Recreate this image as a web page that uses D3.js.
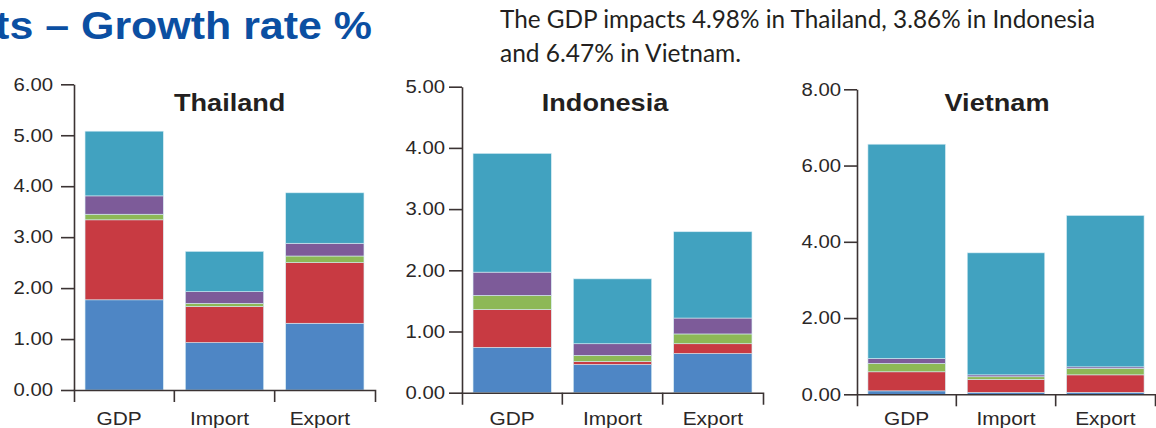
<!doctype html>
<html lang="en">
<head>
    <meta charset="UTF-8">
    <title>Growth rate %</title>
    <script src="https://d3js.org/d3.v7.min.js"></script>
    <style>
        body { margin: 0; background: #fff; }
        svg { display: block; }
    </style>
</head>
<body>
<div id="chart"></div>
<script>
    // data (bottom to top: blue, red, green, purple, teal)
    var categories = ["GDP", "Import", "Export"];
    var countries = ["Thailand", "Indonesia", "Vietnam"];
    var componentColors = ["#4e86c5", "#c83a42", "#8db856", "#7d5b99", "#41a2c0"];

    var thailandValues = [
        [1.77, 1.57, 0.11, 0.36, 1.27],
        [0.93, 0.71, 0.06, 0.23, 0.79],
        [1.31, 1.19, 0.13, 0.25, 0.99]
    ];
    var indonesiaValues = [
        [0.74, 0.62, 0.23, 0.38, 1.94],
        [0.46, 0.05, 0.10, 0.19, 1.06],
        [0.64, 0.16, 0.16, 0.26, 1.41]
    ];
    var vietnamValues = [
        [0.09, 0.50, 0.22, 0.13, 5.62],
        [0.05, 0.34, 0.07, 0.05, 3.20],
        [0.05, 0.46, 0.17, 0.04, 3.97]
    ];

    var thailandTicks = [0, 1, 2, 3, 4, 5, 6];
    var indonesiaTicks = [0, 1, 2, 3, 4, 5];
    var vietnamTicks = [0, 2, 4, 6, 8];

    var titleText = "Economic Impacts \u2013 Growth rate %";
    var noteLines = ["The GDP impacts 4.98% in Thailand, 3.86% in Indonesia",
        "and 6.47% in Vietnam."];

    // layout
    var W = 1156, H = 428;
    var stretch = 1.13;   // the reference text is a bit wide
    var axisColor = "#3b3333";
    var textColor = "#2b2727";

    var panels = [
        {values: thailandValues, ticks: thailandTicks, x0: 74, x1: 375, y0: 390, y1: 84.3, gap: 8, dx: -5, titleX: 229.7},
        {values: indonesiaValues, ticks: indonesiaTicks, x0: 462, x1: 763, y0: 392.7, y1: 86.7, gap: 4, dx: 0, titleX: 605},
        {values: vietnamValues, ticks: vietnamTicks, x0: 857, x1: 1155, y0: 394.3, y1: 89.3, gap: 3, dx: 0, titleX: 997}
    ];

    var svg = d3.select("#chart").append("svg")
        .attr("width", W)
        .attr("height", H)
        .style("font-family", "'Liberation Sans', Arial, sans-serif");

    // big title, cut off at the left edge
    svg.append("text")
        .attr("transform", "translate(372,39) scale(" + stretch + ",1)")
        .attr("text-anchor", "end")
        .attr("font-size", 38)
        .attr("font-weight", "bold")
        .attr("fill", "#0b4fa2")
        .text(titleText);

    // note text on the right
    var noteWidths = [595, 241];
    noteLines.forEach(function (line, i) {
        svg.append("text")
            .attr("x", 500)
            .attr("y", 28 + i * 34)
            .attr("font-family", "Lato, 'Open Sans', sans-serif")
            .attr("font-size", 25)
            .attr("fill", "#231f20")
            .attr("textLength", noteWidths[i])
            .attr("lengthAdjust", "spacingAndGlyphs")
            .text(line);
    });

    var keys = d3.range(componentColors.length);

    panels.forEach(function (p, pi) {
        var rows = categories.map(function (c, i) {
            var row = {cat: c};
            keys.forEach(function (k) { row[k] = p.values[i][k]; });
            return row;
        });
        var series = d3.stack().keys(keys)(rows);

        var x = d3.scaleBand()
            .domain(categories)
            .range([p.x0, p.x1])
            .paddingInner(0.22)
            .paddingOuter(0.11);
        var y = d3.scaleLinear()
            .domain([0, d3.max(p.ticks)])
            .range([p.y0, p.y1]);

        // bars
        svg.append("g")
            .selectAll("g")
            .data(series)
            .enter()
            .append("g")
            .attr("fill", function (d) { return componentColors[d.key]; })
            .selectAll("rect")
            .data(function (d) { return d; })
            .enter()
            .append("rect")
            .attr("x", function (d) { return x(d.data.cat); })
            .attr("y", function (d) { return y(d[1]); })
            .attr("width", x.bandwidth())
            .attr("height", function (d) { return y(d[0]) - y(d[1]); })
            .attr("stroke", "#d6ecf4")
            .attr("stroke-width", 0.6);

        // y axis
        var tickLen = 13;
        var gy = svg.append("g")
            .attr("transform", "translate(" + p.x0 + ",0)")
            .call(d3.axisLeft(y)
                .tickValues(p.ticks)
                .tickFormat(d3.format(".2f"))
                .tickSize(tickLen)
                .tickSizeOuter(0));
        gy.selectAll("path, line").attr("stroke", axisColor).attr("stroke-width", 1.6);
        gy.selectAll("text")
            .attr("x", -(tickLen + p.gap) / stretch)
            .attr("transform", "scale(" + stretch + ",1)")
            .attr("font-size", 18)
            .attr("font-family", "'Liberation Sans', Arial, sans-serif")
            .attr("fill", textColor);

        // x axis with ticks between the categories
        var gx = svg.append("g")
            .attr("transform", "translate(0," + p.y0 + ")")
            .call(d3.axisBottom(x).tickSize(0).tickSizeOuter(12));
        gx.selectAll("path").attr("stroke", axisColor).attr("stroke-width", 1.6);
        gx.selectAll("text")
            .attr("dy", null)
            .attr("y", 425 - p.y0)
            .attr("x", p.dx / stretch)
            .attr("transform", "scale(" + stretch + ",1)")
            .attr("font-size", 18.5)
            .attr("font-family", "'Liberation Sans', Arial, sans-serif")
            .attr("fill", textColor);
        gx.selectAll(".between")
            .data(d3.range(1, categories.length))
            .enter()
            .append("line")
            .attr("x1", function (i) { return p.x0 + i * x.step(); })
            .attr("x2", function (i) { return p.x0 + i * x.step(); })
            .attr("y1", 0)
            .attr("y2", 12)
            .attr("stroke", axisColor)
            .attr("stroke-width", 1.6);

        // country name
        svg.append("text")
            .attr("transform", "translate(" + p.titleX + ",110.5) scale(" + stretch + ",1)")
            .attr("text-anchor", "middle")
            .attr("font-size", 24)
            .attr("font-weight", "bold")
            .attr("fill", "#231f20")
            .text(countries[pi]);
    });
</script>
</body>
</html>
